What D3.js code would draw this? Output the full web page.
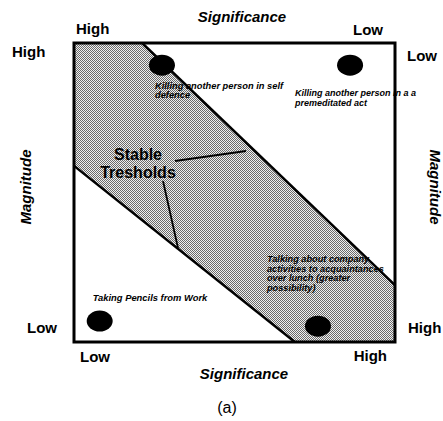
<!DOCTYPE html>
<html>
<head>
<meta charset="utf-8">
<script src="https://cdn.jsdelivr.net/npm/d3@7.9.0/dist/d3.min.js"></script>
<style>
  html, body { margin: 0; padding: 0; background: #fff; }
  svg { display: block; }
  text { font-family: "Liberation Sans", Arial, sans-serif; fill: #000; }
</style>
</head>
<body>
<svg id="chart" width="443" height="421"></svg>
<script>
// events placed on the significance / magnitude grid (0 = low, 1 = high)
const eventLabels = [
  ["Killing another person in self", "defence"],
  ["Killing another person in a a", "premeditated act"],
  ["Taking Pencils from Work"],
  ["Talking about company", "activities to acquaintances", "over lunch (greater", "possibility)"]
];
const eventSignificance = [0.274, 0.86, 0.08, 0.76];
const eventMagnitude = [0.926, 0.926, 0.07, 0.053];

// stable thresholds band edges
const upperSignificance = [0.212, 1];
const upperMagnitude = [1, 0.19];
const lowerSignificance = [0, 0.688];
const lowerMagnitude = [0.589, 0];

const levelLabels = ["Low", "High"];

const svg = d3.select("#chart");
const x = d3.scaleLinear().domain([0, 1]).range([74, 395]);
const y = d3.scaleLinear().domain([0, 1]).range([342, 43]);

// stipple texture like the scanned halftone
const defs = svg.append("defs");
const pat = defs.append("pattern")
  .attr("id", "stipple")
  .attr("patternUnits", "userSpaceOnUse")
  .attr("width", 2).attr("height", 2);
pat.append("rect").attr("width", 2).attr("height", 2).attr("fill", "#f0f0f0");
pat.append("rect").attr("width", 1).attr("height", 1).attr("fill", "#6a6a6a");
pat.append("rect").attr("x", 1).attr("y", 1).attr("width", 1).attr("height", 1).attr("fill", "#6a6a6a");

// band polygon between the two threshold lines (incl. the corners they cut off)
const bandPts = [
  [0, 1],
  [upperSignificance[0], upperMagnitude[0]],
  [upperSignificance[1], upperMagnitude[1]],
  [1, 0],
  [lowerSignificance[1], lowerMagnitude[1]],
  [lowerSignificance[0], lowerMagnitude[0]]
];
const line = d3.line().x(d => x(d[0])).y(d => y(d[1]));

svg.append("path")
  .attr("d", line(bandPts) + "Z")
  .attr("fill", "url(#stipple)");

svg.append("path")
  .attr("d", line(d3.zip(upperSignificance, upperMagnitude)))
  .attr("stroke", "#000").attr("stroke-width", 2.5).attr("fill", "none");
svg.append("path")
  .attr("d", line(d3.zip(lowerSignificance, lowerMagnitude)))
  .attr("stroke", "#000").attr("stroke-width", 2.5).attr("fill", "none");

// frame
svg.append("rect")
  .attr("x", x(0)).attr("y", y(1))
  .attr("width", x(1) - x(0)).attr("height", y(0) - y(1))
  .attr("fill", "none").attr("stroke", "#000").attr("stroke-width", 3);

// dots
const events = eventLabels.map((lines, i) => ({
  lines, sig: eventSignificance[i], mag: eventMagnitude[i]
}));
svg.selectAll("ellipse.dot")
  .data(events)
  .join("ellipse")
  .attr("class", "dot")
  .attr("cx", d => x(d.sig))
  .attr("cy", d => y(d.mag))
  .attr("rx", 13).attr("ry", 10.5)
  .attr("fill", "#000");

// label offsets from each dot: dx, dy, font size, line height
const labelOffsets = [[-7, 24, 9.3, 9], [-55, 31, 9, 10], [-7, -20, 9.4, 9], [-51, -64, 9.2, 9.5]];
svg.selectAll("text.evt")
  .data(events)
  .join("text")
  .attr("class", "evt")
  .attr("font-size", (d, i) => labelOffsets[i][2])
  .attr("font-weight", "bold")
  .attr("font-style", "italic")
  .each(function (d, i) {
    const [dx, dy, , lh] = labelOffsets[i];
    d3.select(this).selectAll("tspan")
      .data(d.lines)
      .join("tspan")
      .attr("x", x(d.sig) + dx)
      .attr("y", (t, j) => y(d.mag) + dy + j * lh)
      .text(t => t);
  });

// "Stable Tresholds" annotation with its two pointers
const ann = svg.append("g");
ann.append("line").attr("x1", 175).attr("y1", 161).attr("x2", 246).attr("y2", 151)
  .attr("stroke", "#000").attr("stroke-width", 2);
ann.append("line").attr("x1", 163).attr("y1", 181).attr("x2", 178).attr("y2", 248)
  .attr("stroke", "#000").attr("stroke-width", 1.8);
ann.append("text").attr("x", 138).attr("y", 160).attr("text-anchor", "middle")
  .attr("font-size", 16).attr("font-weight", "bold").text("Stable");
ann.append("text").attr("x", 138).attr("y", 178).attr("text-anchor", "middle")
  .attr("font-size", 16).attr("font-weight", "bold").text("Tresholds");

// axis titles
const big = s => s.attr("font-size", 15).attr("font-weight", "bold");
svg.append("text").call(big).attr("font-style", "italic")
  .attr("x", 242).attr("y", 22).attr("text-anchor", "middle").text("Significance");
svg.append("text").call(big).attr("font-style", "italic")
  .attr("x", 244).attr("y", 379).attr("text-anchor", "middle").text("Significance");
svg.append("text").call(big).attr("font-style", "italic")
  .attr("transform", "translate(31,187) rotate(-90)").attr("text-anchor", "middle").text("Magnitude");
svg.append("text").call(big).attr("font-style", "italic")
  .attr("transform", "translate(430,187) rotate(90)").attr("text-anchor", "middle").text("Magnitude");

// end labels (Low/High)
// top: High on left, Low on right
svg.append("text").call(big).attr("x", x(0) + 2).attr("y", 34).text(levelLabels[1]);
svg.append("text").call(big).attr("x", x(1) - 12).attr("y", 35).attr("text-anchor", "end").text(levelLabels[0]);
// bottom: Low on left, High on right
svg.append("text").call(big).attr("x", x(0) + 6).attr("y", 362).text(levelLabels[0]);
svg.append("text").call(big).attr("x", x(1) - 8).attr("y", 361).attr("text-anchor", "end").text(levelLabels[1]);
// left: High at top, Low at bottom
svg.append("text").call(big).attr("x", 12).attr("y", 57).text(levelLabels[1]);
svg.append("text").call(big).attr("x", 27).attr("y", 333).text(levelLabels[0]);
// right: Low at top, High at bottom
svg.append("text").call(big).attr("x", 407).attr("y", 61).text(levelLabels[0]);
svg.append("text").call(big).attr("x", 408).attr("y", 333).text(levelLabels[1]);

svg.append("text")
  .attr("x", 227).attr("y", 413).attr("text-anchor", "middle")
  .attr("font-family", "'Open Sans', 'Noto Sans', sans-serif")
  .attr("font-size", 16).text("(a)");
</script>
</body>
</html>
